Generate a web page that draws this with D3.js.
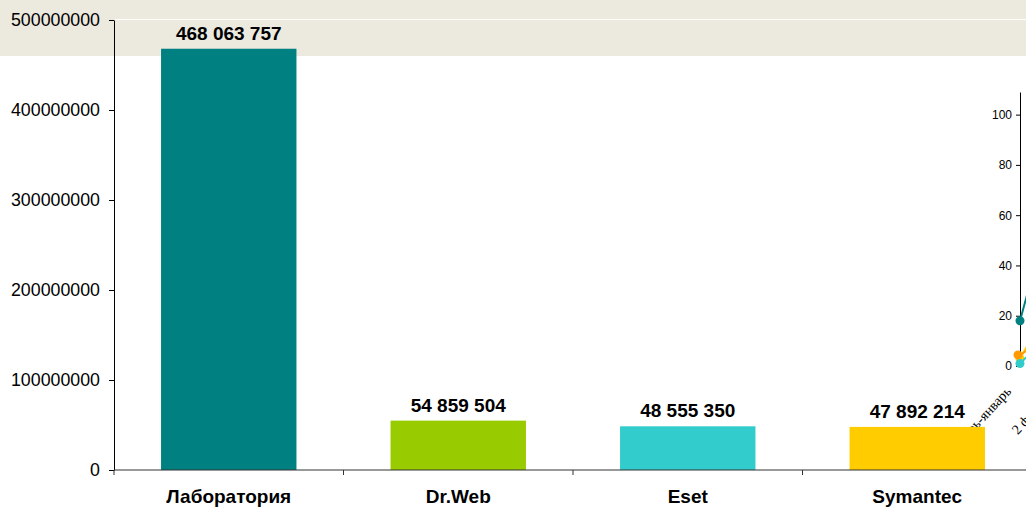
<!DOCTYPE html>
<html>
<head>
<meta charset="utf-8">
<script src="https://cdn.jsdelivr.net/npm/d3@7"></script>
<style>
  body { margin: 0; background: #fff; }
  svg { display: block; }
</style>
</head>
<body>
<div id="chart"></div>
<script>
// main bars
var vendors = ["Лаборатория", "Dr.Web", "Eset", "Symantec"];
var counts = [468063757, 54859504, 48555350, 47892214];
var barColors = ["#008080", "#99cc00", "#33cccc", "#ffcc00"];
var yTicks = [0, 100000000, 200000000, 300000000, 400000000, 500000000];

// small chart peeking in on the right
var insetCats = ["декабрь-январь", "2 февраля"];
var insetTeal = [18, 85];
var insetYellow = [3, 35];
var insetOrange = [4.4, 16];
var insetCyan = [1, 19];
var insetTicks = [0, 20, 40, 60, 80, 100];

var W = 1026, H = 508;

var svg = d3.select("#chart").append("svg")
    .attr("width", W)
    .attr("height", H)
    .style("font-family", "Arial, 'Liberation Sans', sans-serif");

// beige band at the top
svg.append("rect")
    .attr("x", 0).attr("y", 0)
    .attr("width", W).attr("height", 56)
    .attr("fill", "#ece9df");

svg.append("line")
    .attr("x1", 115).attr("x2", W)
    .attr("y1", 19.5).attr("y2", 19.5)
    .attr("stroke", "#fff").attr("stroke-width", 1);

var x = d3.scaleBand()
    .domain(vendors)
    .range([114, 1032])
    .paddingInner(0.41)
    .paddingOuter(0.205);

var y = d3.scaleLinear()
    .domain([0, 500000000])
    .range([470, 20]);

// ---- inset chart (drawn first, the bars cover it) ----
var ix = d3.scalePoint()
    .domain(insetCats)
    .range([1020, 1066]);

var iy = d3.scaleLinear()
    .domain([0, 109])
    .range([366, 92]);

var inset = svg.append("g");

inset.append("g")
    .attr("transform", "translate(1020,0)")
    .call(d3.axisLeft(iy).tickValues(insetTicks).tickSize(4).tickSizeOuter(0).tickPadding(4))
    .call(function(g) {
        g.select(".domain").attr("stroke", "#000");
        g.selectAll("text").style("font-size", "12px").style("font-family", "Arial, sans-serif").attr("fill", "#000");
    });

var insetSeries = [
    { vals: insetYellow, color: "#ffcc00" },
    { vals: insetOrange, color: "#ff9900" },
    { vals: insetCyan, color: "#33cccc" },
    { vals: insetTeal, color: "#008080" }
];

var line = d3.line()
    .x(function(d, i) { return ix(insetCats[i]); })
    .y(function(d) { return iy(d); });

insetSeries.forEach(function(s) {
    inset.append("path")
        .datum(s.vals)
        .attr("d", line)
        .attr("fill", "none")
        .attr("stroke", s.color)
        .attr("stroke-width", 2);
    inset.selectAll(null)
        .data(s.vals)
        .enter().append("circle")
        .attr("cx", function(d, i) { return ix(insetCats[i]) - (s.color == "#ff9900" ? 2 : 0); })
        .attr("cy", function(d) { return iy(d); })
        .attr("r", 4.5)
        .attr("fill", s.color);
});

inset.selectAll(".icat")
    .data(insetCats)
    .enter().append("text")
    .attr("class", "icat")
    .attr("transform", function(d) {
        return "translate(" + (ix(d) - 8) + ",392) rotate(-47)";
    })
    .attr("text-anchor", "end")
    .style("font-family", "'Liberation Serif', 'DejaVu Serif', serif")
    .style("font-size", "14px")
    .text(function(d) { return d; });

// ---- main chart ----
svg.selectAll(".bar")
    .data(counts)
    .enter().append("rect")
    .attr("class", "bar")
    .attr("x", function(d, i) { return x(vendors[i]); })
    .attr("y", function(d) { return y(d); })
    .attr("width", x.bandwidth())
    .attr("height", function(d) { return y(0) - y(d); })
    .attr("fill", function(d, i) { return barColors[i]; });

var fmt = function(v) { return d3.format(",")(v).replace(/,/g, " "); };

svg.selectAll(".val")
    .data(counts)
    .enter().append("text")
    .attr("class", "val")
    .attr("x", function(d, i) { return x(vendors[i]) + x.bandwidth() / 2; })
    .attr("y", function(d) { return y(d) - 9; })
    .attr("text-anchor", "middle")
    .style("font-size", "19px")
    .style("font-weight", "bold")
    .text(fmt);

svg.append("g")
    .attr("transform", "translate(114,0)")
    .call(d3.axisLeft(y).tickValues(yTicks).tickFormat(d3.format("d")).tickSize(5).tickSizeOuter(0).tickPadding(9))
    .call(function(g) {
        g.select(".domain").attr("stroke", "#000");
        g.selectAll(".tick line").attr("stroke", "#000");
        g.selectAll("text").style("font-size", "17.8px").style("font-family", "Arial, sans-serif").attr("fill", "#000");
    });

var xAxis = svg.append("g").attr("transform", "translate(0,470)");
xAxis.append("line")
    .attr("x1", 114).attr("x2", W)
    .attr("stroke", "#333");
xAxis.selectAll(".xt")
    .data(vendors)
    .enter().append("line")
    .attr("x1", function(d) { return x(d) - x.step() * 0.205; })
    .attr("x2", function(d) { return x(d) - x.step() * 0.205; })
    .attr("y1", 0).attr("y2", 5)
    .attr("stroke", "#333");
xAxis.selectAll(".xl")
    .data(vendors)
    .enter().append("text")
    .attr("x", function(d) { return x(d) + x.bandwidth() / 2; })
    .attr("y", 33)
    .attr("text-anchor", "middle")
    .style("font-size", "19px")
    .style("font-weight", "bold")
    .text(function(d) { return d; });
</script>
</body>
</html>
